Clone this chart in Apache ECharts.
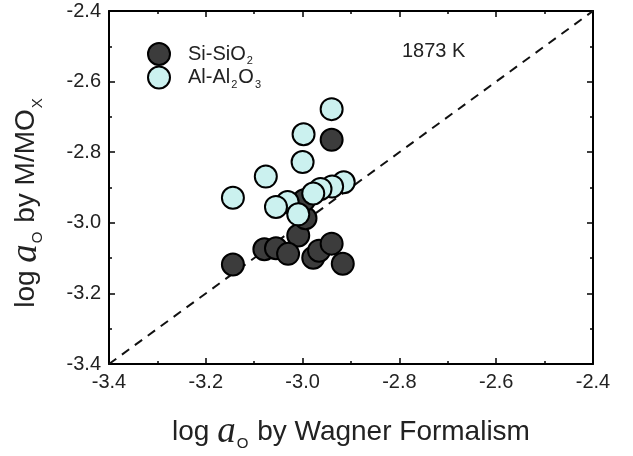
<!DOCTYPE html>
<html>
<head>
<meta charset="utf-8">
<script src="https://cdn.jsdelivr.net/npm/echarts@6/dist/echarts.min.js"></script>
<style>
html,body{margin:0;padding:0;background:#fff;}
#chart{width:633px;height:456px;}
</style>
</head>
<body>
<div id="chart"></div>
<script>
// Data
var siX = [-2.940, -3.144, -3.009, -2.994, -2.997, -3.079, -3.055, -3.030, -2.978, -2.966, -2.940, -2.917];
var siY = [-2.765, -3.118, -3.036, -2.987, -2.936, -3.075, -3.072, -3.088, -3.099, -3.079, -3.059, -3.116];
var alX = [-2.940, -2.998, -3.000, -3.076, -3.144, -2.915, -2.939, -2.963, -2.978, -3.031, -3.055, -3.009];
var alY = [-2.678, -2.749, -2.828, -2.869, -2.929, -2.885, -2.897, -2.904, -2.917, -2.941, -2.955, -2.976];
var refLine = [-3.4, -2.4];
var axisMin = -3.4, axisMax = -2.4, axisStep = 0.2;
var tempLabel = '1873 K';

function pairs(xs, ys){ return xs.map(function(x,i){ return [x, ys[i]]; }); }

var FONT = 'Liberation Sans, Arial, sans-serif';
var chart = echarts.init(document.getElementById('chart'));

var tickCommon = {
  min: axisMin, max: axisMax, interval: axisStep,
  axisLine: {show: true, onZero: false, lineStyle: {color: '#000', width: 2}},
  axisTick: {show: true, inside: true, length: 6, lineStyle: {color: '#000', width: 1.5}},
  minorTick: {show: true, splitNumber: 2, length: 3, lineStyle: {color: '#000', width: 1.5}},
  splitLine: {show: false}
};

function axisLabelCfg(){
  return {show: true, color: '#222', fontSize: 20, fontFamily: FONT, margin: 8,
    formatter: function(v){ return v.toFixed(1); }};
}

var nameRich = {
  n: {fontSize: 28, fontFamily: FONT, color: '#222'},
  a: {fontSize: 37, fontFamily: 'Liberation Serif, Times New Roman, serif', fontStyle: 'italic', color: '#222'},
  s: {fontSize: 15, fontFamily: FONT, color: '#222', padding: [22, 1, 0, 1]}
};

var option = {
  animation: false,
  backgroundColor: '#fff',
  grid: {left: 104, right: 40, top: 11, bottom: 83},
  xAxis: [
    Object.assign({}, tickCommon, {
      type: 'value', position: 'bottom',
      axisLabel: axisLabelCfg(),
      name: '{n|log }{a|a}{s|O}{n| by Wagner Formalism}',
      nameLocation: 'middle', nameGap: 50,
      nameTextStyle: {rich: nameRich}
    }),
    Object.assign({}, tickCommon, {
      type: 'value', position: 'top', axisLabel: {show: false}
    })
  ],
  yAxis: [
    Object.assign({}, tickCommon, {
      type: 'value', position: 'left',
      axisLabel: axisLabelCfg(),
      name: '{n|log }{a|a}{s|O}{n| by M/MO}{s|X}',
      nameLocation: 'middle', nameGap: 64, nameRotate: 90,
      nameTextStyle: {rich: nameRich, padding: [0, 30, 0, 0]}
    }),
    Object.assign({}, tickCommon, {
      type: 'value', position: 'right', axisLabel: {show: false}
    })
  ],
  legend: {
    orient: 'vertical', left: 142, top: 37,
    itemWidth: 24, itemHeight: 22, itemGap: -1,
    data: ['Si-SiO2', 'Al-Al2O3'],
    formatter: function(name){
      if (name === 'Si-SiO2') return '{p|Si-SiO}{s|2}';
      return '{p|Al-Al}{s|2}{n|O}{s|3}';
    },
    textStyle: {
      rich: {
        p: {fontSize: 20, fontFamily: FONT, color: '#222', padding: [0, 0, 0, 12]},
        n: {fontSize: 20, fontFamily: FONT, color: '#222'},
        s: {fontSize: 11, fontFamily: FONT, color: '#222', padding: [14, 1, 0, 1]}
      }
    }
  },
  graphic: [{
    type: 'text', left: 402, top: 41,
    style: {text: tempLabel, fontSize: 20, fontFamily: FONT, fill: '#222'}
  }],
  series: [
    {
      type: 'line', data: pairs(refLine, refLine), symbol: 'none', silent: true,
      lineStyle: {color: '#111', width: 2, type: [9, 7]}, z: 1
    },
    {
      name: 'Si-SiO2', type: 'scatter', data: pairs(siX, siY),
      symbol: 'circle', symbolSize: 22,
      itemStyle: {color: '#3c3c3c', borderColor: '#000', borderWidth: 2, opacity: 1}, z: 2
    },
    {
      name: 'Al-Al2O3', type: 'scatter', data: pairs(alX, alY),
      symbol: 'circle', symbolSize: 22,
      itemStyle: {color: '#cbf1ef', borderColor: '#000', borderWidth: 2, opacity: 1}, z: 3
    }
  ]
};
chart.setOption(option);
</script>
</body>
</html>
